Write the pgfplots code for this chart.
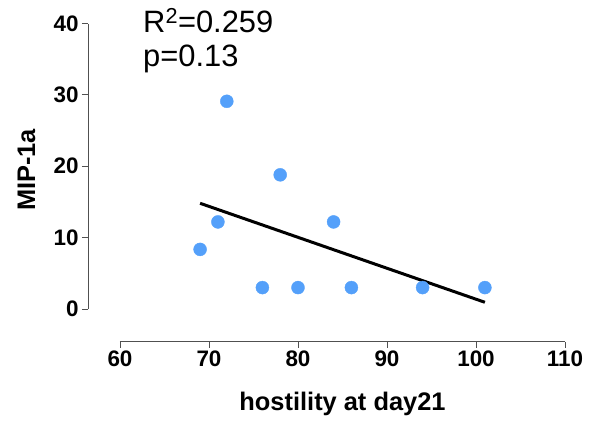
\documentclass[border=0pt]{standalone}
\usepackage{pgfplots}
\pgfplotsset{compat=1.18}
\usepackage{fontspec}
\setmainfont{Liberation Sans}
\definecolor{pt}{RGB}{84,160,250}
\definecolor{axc}{RGB}{80,80,80}
\begin{document}
\begin{tikzpicture}
\begin{axis}[name=ax, scale only axis, width=445bp, height=285.5bp,
 xmin=60, xmax=110, ymin=0, ymax=40,
 axis lines=left, axis line style={-, axc, line width=1pt},
 axis x line shift=32.7bp, axis y line shift=32bp,
 xtick={60,70,...,110}, ytick={0,10,...,40},
 tick align=outside, major tick length=6bp,
 tick style={axc, line width=1pt},
 ticklabel style={font=\fontsize{22.5}{26}\selectfont\bfseries},
 /pgf/number format/assume math mode=true,
 xlabel={hostility at day21}, ylabel={MIP-1a},
 label style={font=\fontsize{25.5}{30}\selectfont\bfseries},
 xlabel style={at={(axis description cs:0.5,-0.354)}, anchor=base},
 ylabel style={at={(axis description cs:-0.191,0.487)}, anchor=base},
 clip=false]
\addplot[black, line width=3bp] coordinates {(69,14.81) (101,0.94)};
\addplot[only marks, mark=*, mark size=6.5bp, color=pt, mark options={draw=none, fill=pt}] coordinates {
(69,8.35) (71,12.2) (72,29.1) (76,3.0) (78,18.8) (80,3.0) (84,12.2) (86,3.0) (94,3.0) (101,3.0)};
\node[anchor=base west, inner sep=0, font=\fontsize{31}{36}\selectfont] at (rel axis cs:0.0517,0.967) {R\textsuperscript{2}=0.259};
\node[anchor=base west, inner sep=0, font=\fontsize{31}{36}\selectfont] at (rel axis cs:0.0517,0.848) {p=0.13};
\end{axis}
\pgfresetboundingbox
\path (ax.south west) ++(-120bp,-113bp) rectangle ++(597bp,422bp);
\end{tikzpicture}
\end{document}
